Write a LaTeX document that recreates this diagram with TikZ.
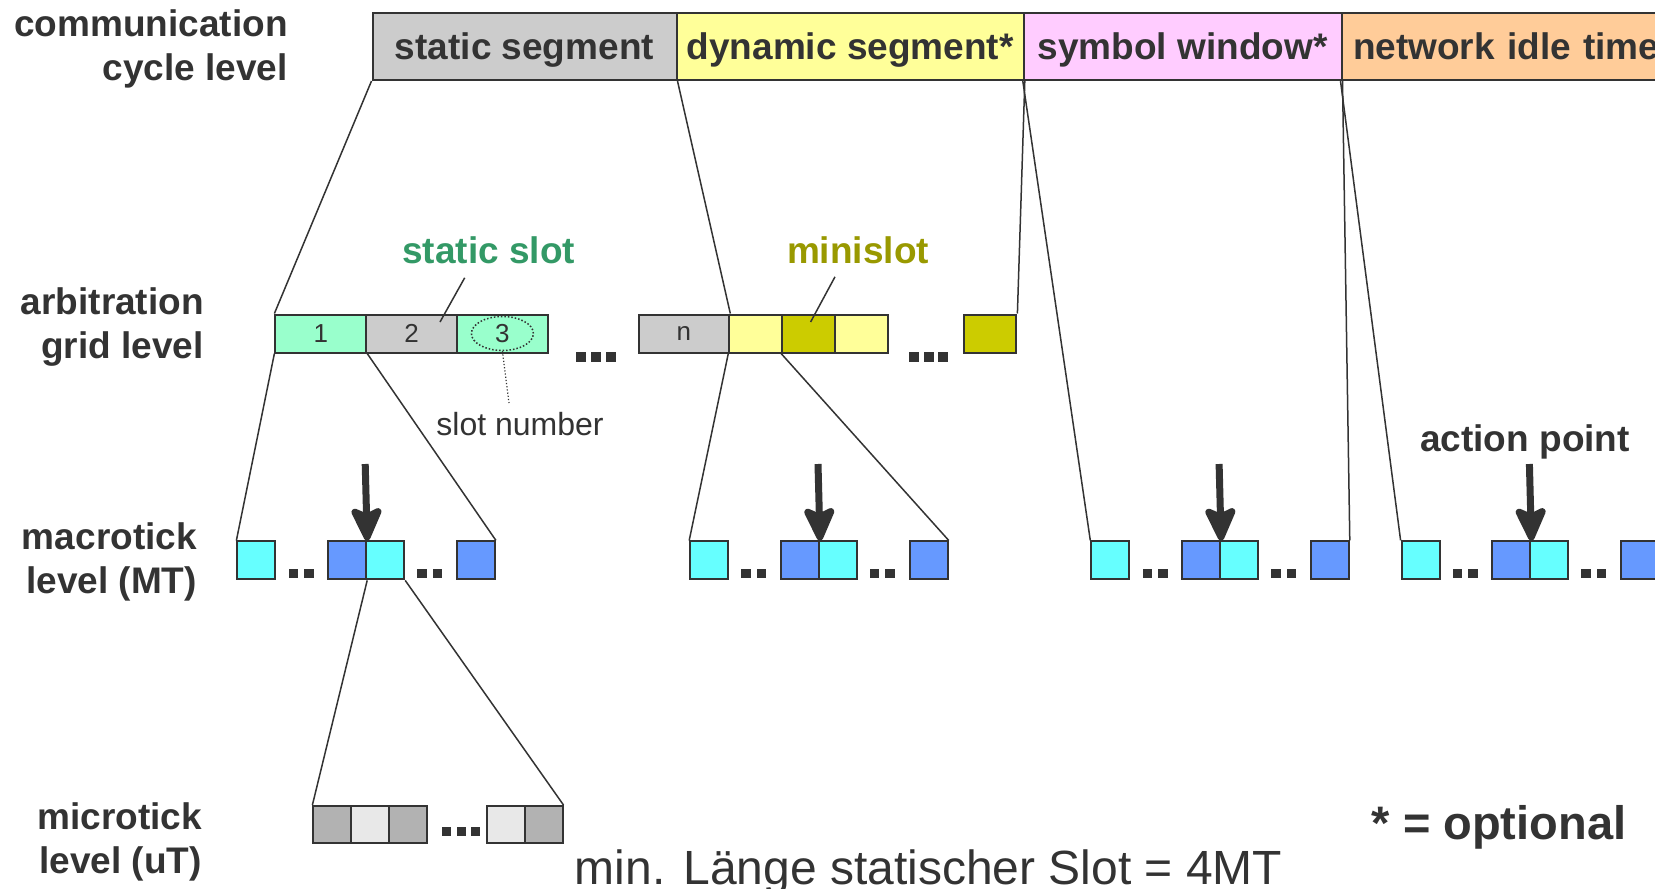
\documentclass[tikz,border=0pt]{standalone}
\usepackage{fontspec}
\setmainfont{Liberation Sans}
\usetikzlibrary{arrows.meta,shapes.geometric}

\definecolor{ink}{HTML}{333333}
\definecolor{seggray}{HTML}{CCCCCC}
\definecolor{segyellow}{HTML}{FFFF99}
\definecolor{segpink}{HTML}{FFCCFF}
\definecolor{segorange}{HTML}{FFCC99}
\definecolor{slotmint}{HTML}{99FFCC}
\definecolor{miniolive}{HTML}{CCCC00}
\definecolor{tickcyan}{HTML}{66FFFF}
\definecolor{tickblue}{HTML}{6699FF}
\definecolor{utdark}{HTML}{B2B2B2}
\definecolor{utlight}{HTML}{E8E8E8}
\definecolor{slotgreen}{HTML}{339966}
\definecolor{miniword}{HTML}{999900}

\begin{document}
\begin{tikzpicture}[x=1pt, y=-1pt,
    every node/.style={text=ink, inner sep=0pt},
    segbox/.style={draw=ink, line width=2pt, anchor=north west, minimum height=67pt,
        text height=26pt, text depth=0pt, font=\fontsize{37}{44}\selectfont\bfseries},
    slotbox/.style={draw=ink, line width=2pt, anchor=north west, minimum height=38pt,
        font=\fontsize{26}{30}\selectfont},
    mtbox/.style={draw=ink, line width=2pt, anchor=north west, minimum width=38pt, minimum height=38pt},
    utbox/.style={draw=ink, line width=2pt, anchor=north west, minimum width=38pt, minimum height=37pt},
    dot/.style={fill=ink, anchor=north west, minimum size=10pt},
    lvl/.style={align=right, anchor=east, font=\fontsize{37}{44}\selectfont\bfseries},
    bold/.style={font=\fontsize{37}{44}\selectfont\bfseries},
    zoomline/.style={draw=ink, line width=1.5pt},
    apoint/.style={draw=ink, line width=7pt, -{Stealth[length=40pt, width=36pt, inset=8pt, round]}}]

\useasboundingbox (0,0) rectangle (1655,889);
\fill[white] (0,0) rectangle (1655,889);
\clip (0,0) rectangle (1655,889);

% level names
\node[lvl] (lvcycle) at (288,48.5) {communication\\cycle level};
\node[lvl] (lvgrid) at (204,327) {arbitration\\grid level};
\node[lvl] (lvmt) at (197,561.5) {macrotick\\level (MT)};
\node[lvl] (lvut) at (202,842) {microtick\\level (uT)};

% communication cycle
\node[segbox, fill=seggray, minimum width=304pt] (segstatic) at (371.5,12) {static segment};
\node[segbox, fill=segyellow, minimum width=347.3pt] (segdyn) at (675.5,12) {dynamic segment*};
\node[segbox, fill=segpink, minimum width=317.7pt] (segsym) at (1022.8,12) {symbol window*};
\node[segbox, fill=segorange, text width=380pt, inner xsep=11.5pt, align=left] (segidle) at (1340.5,12) {network idle time};

% arbitration grid
\node[slotbox, fill=slotmint, minimum width=90.8pt] (s1) at (274.4,313.5) {1};
\node[slotbox, fill=seggray, minimum width=90.8pt] (s2) at (365.2,313.5) {2};
\node[slotbox, fill=slotmint, minimum width=90.8pt] (s3) at (456,313.5) {3};
\node[slotbox, fill=seggray, minimum width=90.8pt] (sn) at (637.5,313.5) {n};
\node[slotbox, fill=segyellow, minimum width=52.8pt] (m1) at (728.3,313.5) {};
\node[slotbox, fill=miniolive, minimum width=52.8pt] (m2) at (781.1,313.5) {};
\node[slotbox, fill=segyellow, minimum width=52.8pt] (m3) at (833.9,313.5) {};
\node[slotbox, fill=miniolive, minimum width=52.8pt] (m4) at (962.6,313.5) {};
\foreach \x [count=\k] in {575.5,590.5,605.5}
    \node[dot] (ardotA\k) at (\x,352) {};
\foreach \x [count=\k] in {909,923.5,938}
    \node[dot] (ardotB\k) at (\x,352) {};

% slot number mark
\node[draw=ink, line width=1.5pt, dash pattern=on 1.5pt off 2pt, ellipse,
    minimum width=62pt, minimum height=34pt] (num) at (s3.center) {};
\node[font=\fontsize{32}{36}\selectfont] (slotnum) at (520,424) {slot number};
\coordinate (numend) at (509,403);
\draw[ink, line width=1.2pt, dash pattern=on 1.2pt off 2pt] (num.south) -- (numend);

% slot labels
\node[bold, text=slotgreen] (stslot) at (488.7,250) {static slot};
\node[bold, text=miniword] (minilbl) at (858,250) {minislot};
\coordinate (stslot-tip) at (440,322);
\coordinate (mini-tip) at (810.6,322);
\draw[zoomline] ([xshift=-24pt, yshift=-14pt]stslot.south) -- (stslot-tip);
\draw[zoomline] ([xshift=-23pt, yshift=-13pt]minilbl.south) -- (mini-tip);

% macroticks with action points
\foreach \g/\x in {1/236.4, 2/689.2, 3/1090.3, 4/1400.6} {
    \node[mtbox, fill=tickcyan] (mt\g-a) at (\x,540.4) {};
    \node[mtbox, fill=tickblue] (mt\g-b) at (\x+90.8,540.4) {};
    \node[mtbox, fill=tickcyan] (mt\g-c) at (\x+128.8,540.4) {};
    \node[mtbox, fill=tickblue] (mt\g-d) at (\x+219.5,540.4) {};
    \foreach \dx [count=\k] in {52,67.5,180.5,196}
        \node[dot, minimum size=9.5pt] (mt\g-dot\k) at (\x+\dx,568.5) {};
    \coordinate (ap\g) at (\x+128.8,464);
    \draw[apoint] (ap\g) -- (mt\g-b.north east);
}
\node[bold] (aplbl) at (1525,442) {action point};

% microticks
\node[utbox, fill=utdark] (ut1) at (312.4,805) {};
\node[utbox, fill=utlight] (ut2) at (350.4,805) {};
\node[utbox, fill=utdark] (ut3) at (388.4,805) {};
\node[utbox, fill=utlight] (ut4) at (485.5,805) {};
\node[utbox, fill=utdark] (ut5) at (523.5,805) {};
\foreach \x [count=\k] in {442,456.5,471}
    \node[dot, minimum size=9pt] (utdot\k) at (\x,827) {};

% zoom lines
\draw[zoomline] (segstatic.south west) -- (s1.north west);
\draw[zoomline] (segstatic.south east) -- (sn.north east);
\draw[zoomline] (segdyn.south east) -- (m4.north east);
\draw[zoomline] (s1.south west) -- (mt1-a.north west);
\draw[zoomline] (s1.south east) -- (mt1-d.north east);
\draw[zoomline] (m1.south west) -- (mt2-a.north west);
\draw[zoomline] (m2.south west) -- (mt2-d.north east);
\draw[zoomline] (segsym.south west) -- (mt3-a.north west);
\draw[zoomline] (segsym.south east) -- (mt3-d.north east);
\draw[zoomline] (segidle.south west) -- (mt4-a.north west);
\draw[zoomline] (mt1-b.south east) -- (ut1.north west);
\draw[zoomline] (mt1-c.south east) -- (ut5.north east);

% notes
\node[font=\fontsize{47}{50}\selectfont\bfseries] (optional) at (1499,827) {* = optional};
\node[font=\fontsize{48}{52}\selectfont, anchor=base] (minlen) at (928.6,884) {min. Länge statischer Slot = 4MT};
\end{tikzpicture}
\end{document}
